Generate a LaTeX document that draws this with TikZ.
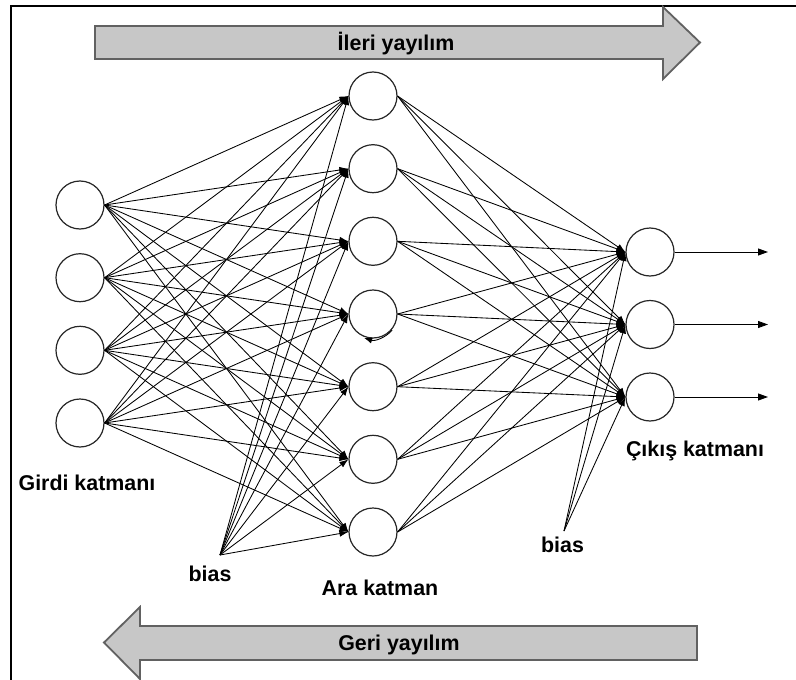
\documentclass[tikz,border=0pt]{standalone}
\usepackage{fontspec}
\setmainfont{Liberation Sans}
\usetikzlibrary{arrows.meta}
\begin{document}
\begin{tikzpicture}[x=1pt,y=-1pt,
  neuron/.style={circle,draw=black!85,line width=1.2pt,fill=white,minimum size=48pt,inner sep=0pt},
  link/.style={draw=black,line width=0.85pt,-{Latex[length=9pt,width=6.5pt]}},
  outarrow/.style={draw=black,line width=0.9pt,-{Triangle[length=10pt,width=7pt]}},
  lbl/.style={font=\bfseries\fontsize{21.4}{24}\selectfont,anchor=base,inner sep=0pt},
  band/.style={fill=black!22,draw=black!62,line width=1.8pt,line join=miter}]
\useasboundingbox (0,0) rectangle (796,680);

% outer frame (only the left and top edges fall inside the page)
\draw[line width=2pt] (11,680) -- (11,6) -- (796,6);

% propagation arrows
\draw[band] (95,26) -- (663,26) -- (663,7) -- (700,42.5) -- (663,79) -- (663,59) -- (95,59) -- cycle;
\node[lbl] (fwd) at (396,50) {İleri yayılım};
\draw[band] (697,626) -- (140,626) -- (140,607) -- (104,642.5) -- (140,679) -- (140,660) -- (697,660) -- cycle;
\node[lbl] (bwd) at (399,650) {Geri yayılım};

% layers
\foreach \k/\yy in {1/205,2/277.7,3/350.3,4/423}
  \node[neuron] (i\k) at (80,\yy) {};
\foreach \k/\yy in {1/96,2/168.7,3/241.3,4/314,5/386.7,6/459.3,7/532}
  \node[neuron] (h\k) at (373,\yy) {};
\foreach \k/\yy in {1/252,2/324.5,3/397}
  \node[neuron] (o\k) at (650,\yy) {};

% bias sources
\coordinate (bL) at (220,555);
\coordinate (bR) at (564,531);

% input -> hidden
\foreach \a in {1,...,4}
  \foreach \b in {1,...,7}
    \draw[link] (i\a.east) -- (h\b.west);
% bias -> hidden
\foreach \b in {1,...,7}
  \draw[link] (bL) -- (h\b.west);
% hidden -> output
\foreach \a in {1,...,7}
  \foreach \b in {1,...,3}
    \draw[link] (h\a.east) -- (o\b.west);
% bias -> output
\foreach \b in {1,...,3}
  \draw[link] (bR) -- (o\b.west);

% outputs
\foreach \b/\yy in {1/252,2/324.5,3/397} {
  \coordinate (y\b) at (768,\yy);
  \draw[outarrow] (o\b.east) -- (y\b);
}

% small loop arrow under the fourth hidden neuron
\draw[line width=0.85pt,-{Latex[length=8pt,width=6pt]}]
  ([shift={(40:25)}]h4.center) arc[start angle=40,end angle=108,radius=26];

% labels
\node[lbl] (lin)  at (87,490)    {Girdi katmanı};
\node[lbl] (lbl1) at (210,581)   {bias};
\node[lbl] (lhid) at (380,595)   {Ara katman};
\node[lbl] (lbl2) at (562.5,552) {bias};
\node[lbl] (lout) at (695,456)   {Çıkış katmanı};
\end{tikzpicture}
\end{document}
